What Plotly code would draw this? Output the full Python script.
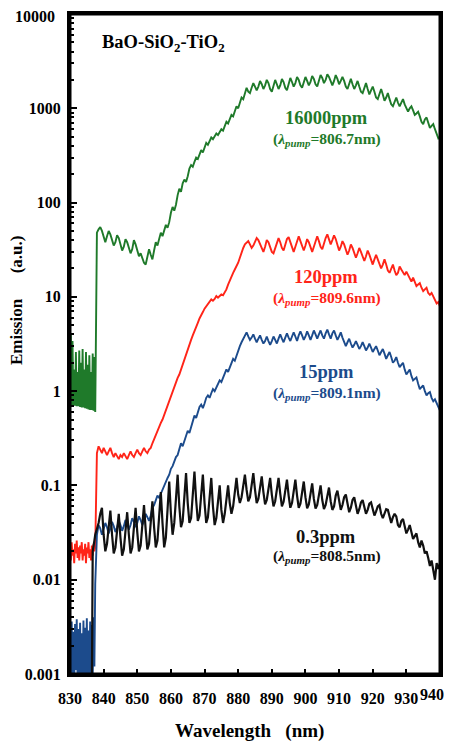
import numpy as np
import plotly.graph_objects as go

# ---- wavelength sampling grids (nm) ----
wl_noise = np.arange(830.0, 837.51, 0.25)   # 31 points, detector-noise region
wl_main = np.arange(838.0, 940.01, 0.5)     # 205 points

# ---- 16000 ppm (green) ----
green_noise = [0.72, 4.0, 0.71, 3.4, 0.7, 1.7, 0.7, 2.6, 0.69, 1.6, 0.69, 2.7, 0.68, 2.0, 0.67, 2.8,
               0.67, 1.7, 0.66, 2.6, 0.65, 1.9, 0.64, 2.4, 0.63, 1.6, 0.63, 2.5, 0.62, 2.3, 0.6]
green_main = [
    48, 52, 55, 50, 42, 38, 44, 50, 46, 40,
    35, 38, 45, 42, 36, 31, 34, 41, 38, 33,
    29, 32, 40, 36, 30, 27, 29, 26, 23, 22,
    27, 32, 28, 25, 31, 38, 35, 40, 48, 44,
    50, 58, 54, 62, 78, 90, 82, 95, 120, 140,
    130, 160, 175, 165, 190, 230, 250, 240, 270, 300,
    290, 320, 360, 340, 380, 430, 410, 450, 490, 470,
    510, 540, 520, 560, 600, 580, 640, 720, 690, 760,
    850, 820, 920, 1050, 1000, 1150, 1300, 1250, 1450, 1650,
    1500, 1450, 1650, 1850, 1700, 1550, 1700, 1950, 1800, 1600,
    1750, 2000, 1850, 1600, 1500, 1750, 2000, 1800, 1600, 1750,
    2050, 1900, 1650, 1550, 1800, 2100, 1900, 1700, 1850, 2150,
    2000, 1750, 1650, 1900, 2150, 1950, 1750, 1900, 2200, 2050,
    1800, 1700, 1950, 2250, 2100, 1850, 2000, 2300, 2150, 1900,
    1750, 1950, 2250, 2050, 1800, 1950, 2150, 1950, 1700, 1600,
    1850, 2050, 1800, 1600, 1750, 1950, 1700, 1500, 1450, 1650,
    1850, 1600, 1400, 1550, 1700, 1500, 1300, 1250, 1450, 1600,
    1400, 1200, 1300, 1450, 1250, 1100, 1050, 1200, 1300, 1150,
    1050, 1150, 1250, 1100, 980, 920, 1000, 1050, 950, 850,
    880, 920, 820, 720, 680, 760, 800, 700, 620, 650,
    680, 600, 520, 480, 500]

# ---- 120 ppm (red) ----
red_noise = [0.022, 0.016, 0.025, 0.018, 0.021, 0.015, 0.024, 0.019, 0.026, 0.017, 0.022, 0.016,
             0.023, 0.019, 0.025, 0.016, 0.021, 0.018, 0.024, 0.015, 0.022, 0.019, 0.025, 0.017,
             0.021, 0.016, 0.023, 0.018, 0.024, 0.02, 0.022]
red_main = [
    0.22, 0.26, 0.24, 0.22, 0.25, 0.23, 0.21, 0.23, 0.25, 0.22,
    0.2, 0.22, 0.2, 0.19, 0.21, 0.2, 0.22, 0.2, 0.19, 0.21,
    0.23, 0.21, 0.2, 0.22, 0.24, 0.22, 0.21, 0.23, 0.25, 0.23,
    0.22, 0.24, 0.25, 0.28, 0.31, 0.35, 0.38, 0.42, 0.46, 0.5,
    0.56, 0.62, 0.7, 0.8, 0.9, 1.0, 1.1, 1.25, 1.38, 1.5,
    1.7, 1.95, 2.2, 2.5, 2.8, 3.1, 3.5, 3.9, 4.4, 4.8,
    5.3, 5.9, 6.3, 6.9, 7.5, 8.0, 8.3, 8.8, 9.4, 9.1,
    9.5, 10.2, 9.8, 10.2, 10.6, 10.4, 11, 12, 13.5, 15,
    16.5, 18, 19.5, 21, 23, 26, 30, 33, 36, 38,
    39, 36, 33, 35, 39, 42, 40, 36, 32, 30,
    34, 40, 38, 33, 30, 29, 33, 39, 42, 38,
    33, 31, 35, 41, 43, 38, 33, 30, 34, 40,
    44, 39, 34, 31, 35, 41, 38, 33, 30, 34,
    40, 44, 39, 34, 32, 37, 42, 46, 41, 36,
    40, 45, 41, 35, 31, 34, 39, 36, 31, 28,
    31, 36, 33, 29, 26, 29, 33, 30, 26, 24,
    27, 31, 28, 24, 22, 25, 28, 25, 22, 20,
    22, 25, 22, 19, 18, 20, 22, 19, 17, 18,
    21, 19.5, 18, 17, 18.5, 17, 15.5, 14.5, 16, 14.5,
    13, 13.5, 14, 12.5, 11.5, 12, 12.5, 11, 10.5, 11,
    10, 9, 8.5, 8.8, 7.9]

# ---- 15 ppm (blue) ----
blue_noise = [0.003, 0.0008, 0.0036, 0.0009, 0.0028, 0.0007, 0.0034, 0.0011, 0.0038, 0.0008, 0.003,
              0.0009, 0.0035, 0.0007, 0.0027, 0.001, 0.0037, 0.0008, 0.0031, 0.0009, 0.0039, 0.0007,
              0.0029, 0.001, 0.0036, 0.0008, 0.0033, 0.0009, 0.004, 0.0012, 0.009]
blue_main = [
    0.03, 0.038, 0.035, 0.03, 0.034, 0.04, 0.036, 0.031, 0.035, 0.041,
    0.037, 0.032, 0.036, 0.042, 0.038, 0.033, 0.037, 0.043, 0.039, 0.034,
    0.038, 0.045, 0.041, 0.036, 0.04, 0.047, 0.043, 0.038, 0.042, 0.05,
    0.046, 0.042, 0.048, 0.058, 0.062, 0.07, 0.078, 0.074, 0.082, 0.09,
    0.1, 0.11, 0.12, 0.13, 0.15, 0.16, 0.18, 0.2, 0.21, 0.25,
    0.28, 0.26, 0.3, 0.35, 0.38, 0.36, 0.42, 0.5, 0.55, 0.52,
    0.6, 0.68, 0.72, 0.66, 0.74, 0.85, 0.9, 0.85, 0.95, 1.05,
    1.0, 1.1, 1.2, 1.3, 1.25, 1.4, 1.55, 1.7, 1.6, 1.8,
    2.0, 2.2, 2.1, 2.4, 2.7, 3.0, 3.3, 3.6, 3.9, 4.2,
    3.8, 3.5, 3.7, 4.0, 3.6, 3.3, 3.6, 3.9, 3.5, 3.2,
    3.4, 3.8, 3.4, 3.1, 3.4, 3.8, 3.5, 3.2, 3.6, 4.0,
    3.6, 3.3, 3.7, 4.1, 3.7, 3.4, 3.8, 4.2, 3.8, 3.4,
    3.9, 4.3, 3.9, 3.5, 3.8, 4.3, 3.9, 3.5, 3.9, 4.4,
    4.0, 3.6, 4.0, 4.4, 3.9, 3.6, 4.1, 4.5, 4.0, 3.6,
    4.1, 4.4, 3.9, 3.5, 3.8, 4.2, 3.7, 3.3, 3.0, 3.3,
    3.6, 3.2, 2.9, 3.1, 3.4, 3.1, 2.8, 3.0, 3.3, 3.0,
    2.7, 2.9, 3.2, 2.9, 2.6, 2.8, 3.0, 2.7, 2.4, 2.6,
    2.8, 2.5, 2.2, 2.4, 2.6, 2.3, 2.0, 2.1, 2.3, 2.0,
    1.8, 1.9, 2.0, 1.7, 1.5, 1.6, 1.7, 1.45, 1.3, 1.35,
    1.4, 1.2, 1.05, 1.1, 1.15, 1.0, 0.9, 0.95, 0.98, 0.85,
    0.78, 0.82, 0.75, 0.68, 0.62]

# ---- 0.3 ppm (black) ----
black_noise = [0.0007, 0.0007, 0.0007, 0.0007, 0.0007, 0.0007, 0.0007, 0.0007, 0.0007, 0.0007,
               0.0007, 0.0007, 0.0007, 0.0007, 0.0007, 0.0007, 0.0007, 0.0007, 0.0007, 0.0007,
               0.0007, 0.0007, 0.0007, 0.0007, 0.0007, 0.0007, 0.0007, 0.02, 0.022, 0.026, 0.03]
black_main = [
    0.034, 0.04, 0.05, 0.058, 0.03, 0.02, 0.024, 0.038, 0.054, 0.03,
    0.019, 0.022, 0.036, 0.05, 0.028, 0.018, 0.021, 0.035, 0.052, 0.03,
    0.019, 0.022, 0.038, 0.058, 0.032, 0.02, 0.023, 0.04, 0.062, 0.034,
    0.021, 0.024, 0.042, 0.068, 0.036, 0.022, 0.026, 0.05, 0.085, 0.04,
    0.022, 0.028, 0.06, 0.11, 0.05, 0.03, 0.04, 0.07, 0.13, 0.06,
    0.036, 0.042, 0.075, 0.135, 0.065, 0.04, 0.045, 0.08, 0.14, 0.07,
    0.042, 0.048, 0.08, 0.13, 0.065, 0.04, 0.046, 0.075, 0.12, 0.06,
    0.038, 0.045, 0.07, 0.1, 0.055, 0.04, 0.05, 0.075, 0.1, 0.065,
    0.05, 0.06, 0.09, 0.12, 0.08, 0.065, 0.075, 0.1, 0.13, 0.09,
    0.068, 0.075, 0.105, 0.135, 0.09, 0.065, 0.072, 0.1, 0.125, 0.085,
    0.063, 0.07, 0.095, 0.12, 0.08, 0.06, 0.068, 0.095, 0.12, 0.082,
    0.06, 0.067, 0.09, 0.115, 0.078, 0.058, 0.065, 0.09, 0.115, 0.078,
    0.058, 0.064, 0.088, 0.11, 0.075, 0.057, 0.063, 0.085, 0.105, 0.072,
    0.057, 0.062, 0.082, 0.1, 0.07, 0.056, 0.062, 0.08, 0.095, 0.068,
    0.055, 0.06, 0.078, 0.088, 0.065, 0.055, 0.062, 0.075, 0.08, 0.062,
    0.052, 0.058, 0.07, 0.075, 0.06, 0.05, 0.056, 0.066, 0.07, 0.057,
    0.05, 0.055, 0.064, 0.066, 0.054, 0.048, 0.053, 0.06, 0.062, 0.05,
    0.045, 0.05, 0.056, 0.055, 0.045, 0.04, 0.046, 0.05, 0.047, 0.038,
    0.036, 0.042, 0.044, 0.036, 0.031, 0.034, 0.038, 0.032, 0.027, 0.029,
    0.031, 0.025, 0.022, 0.026, 0.023, 0.019, 0.02, 0.017, 0.014, 0.016,
    0.012, 0.01, 0.015, 0.013, 0.015]

for name, nz, mn in [("green", green_noise, green_main), ("red", red_noise, red_main),
                     ("blue", blue_noise, blue_main), ("black", black_noise, black_main)]:
    assert len(nz) == len(wl_noise), (name, "noise", len(nz), len(wl_noise))
    assert len(mn) == len(wl_main), (name, "main", len(mn), len(wl_main))

# axis ticks; the two labels that touch the page edge are placed as annotations below
y_ticks = [0.001, 0.01, 0.1, 1, 10, 100, 1000, 10000]
y_ticktext = ["0.001", "0.01", "0.1", "1", "10", "100", "1000", ""]
x_ticks = [830, 840, 850, 860, 870, 880, 890, 900, 910, 920, 930, 940]
x_ticktext = ["830", "840", "850", "860", "870", "880", "890", "900", "910", "920", "930", ""]

wl_all = list(wl_noise) + list(wl_main)
series = [
    ("16000ppm", green_noise + green_main, "#1f7a2a", 1.9),
    ("120ppm", red_noise + red_main, "#ff2418", 1.9),
    ("15ppm", blue_noise + blue_main, "#1c4b8c", 1.9),
    ("0.3ppm", black_noise + black_main, "#111111", 2.2),
]

fig = go.Figure()
for name, vals, col, w in series:
    fig.add_trace(go.Scatter(x=wl_all, y=vals, mode="lines", name=name,
                             line=dict(color=col, width=w), showlegend=False))

SERIF = "Liberation Serif"
font_tick = dict(family=SERIF, size=16, color="black", weight="bold")

minor_vals = [m * 10.0 ** e for e in range(-3, 4) for m in range(2, 10)]

# The page body adds an 8px offset, so the figure is 8px smaller than the window.
OFF = 8
fig.update_layout(
    width=452 - OFF, height=747 - OFF,
    margin=dict(l=70 - OFF, r=12, t=14 - OFF, b=73, autoexpand=False),
    paper_bgcolor="white", plot_bgcolor="white",
    showlegend=False,
    xaxis=dict(range=[830, 940], tickmode="array", tickvals=x_ticks, ticktext=x_ticktext,
               ticks="inside", ticklen=5, tickwidth=2, tickcolor="black",
               showline=True, linewidth=3, linecolor="black", mirror=True,
               showgrid=False, zeroline=False, tickfont=font_tick,
               ticklabelstandoff=8, automargin=False, ticklabeloverflow="allow"),
    yaxis=dict(type="log", range=[-3, 4], tickmode="array", tickvals=y_ticks,
               ticktext=y_ticktext, ticks="inside", ticklen=7, tickwidth=2,
               tickcolor="black", showline=True, linewidth=3, linecolor="black",
               mirror=True, showgrid=False, zeroline=False, tickfont=font_tick,
               ticklabelstandoff=3, automargin=False, ticklabeloverflow="allow",
               minor=dict(tickmode="array", tickvals=minor_vals, ticks="inside",
                          ticklen=4, tickwidth=1.5, tickcolor="black", showgrid=False)),
)

# frame box (drawn explicitly so all four sides show)
fig.add_shape(type="rect", xref="paper", yref="paper", x0=0, y0=0, x1=1, y1=1,
              line=dict(color="black", width=3), layer="above")

# page-pixel positions of the plot area (layout-only placement helpers)
L, R, T, B = 70, 440, 14, 674
def px(xp):
    return (xp - L) / (R - L)
def py(yp):
    return (B - yp) / (B - T)

def ann(text, xp, yp, size, color, xanchor="center", angle=0):
    fig.add_annotation(text=text, xref="paper", yref="paper", x=px(xp), y=py(yp),
                       xanchor=xanchor, yanchor="middle", showarrow=False, textangle=angle,
                       font=dict(family=SERIF, size=size, color=color, weight="bold"))

# edge tick labels
ann("10000", 57, 17, 16, "black", xanchor="right")
ann("940", 446, 694, 16, "black", xanchor="right")

ann("BaO-SiO<sub>2</sub>-TiO<sub>2</sub>", 100, 44, 18.5, "black", xanchor="left")
labels = [
    ("16000ppm", "806.7", "#1f7a2a", 118, 139),
    ("120ppm", "809.6", "#ff2418", 277, 298),
    ("15ppm", "809.1", "#1c4b8c", 372, 393),
    ("0.3ppm", "808.5", "#111111", 537, 556),
]
for conc, lam, col, y1, y2 in labels:
    ann(conc, 326, y1, 18.5, col)
    ann("(<i>λ<sub>pump</sub></i>=" + lam + "nm)", 327, y2, 15.5, col)

ann("Wavelength\u00a0\u00a0\u00a0(nm)", 249, 731, 19, "black")
ann("Emission\u2003\u2002(a.u.)", 16, 301, 17, "black", angle=-90)

fig.write_html("out.html")
